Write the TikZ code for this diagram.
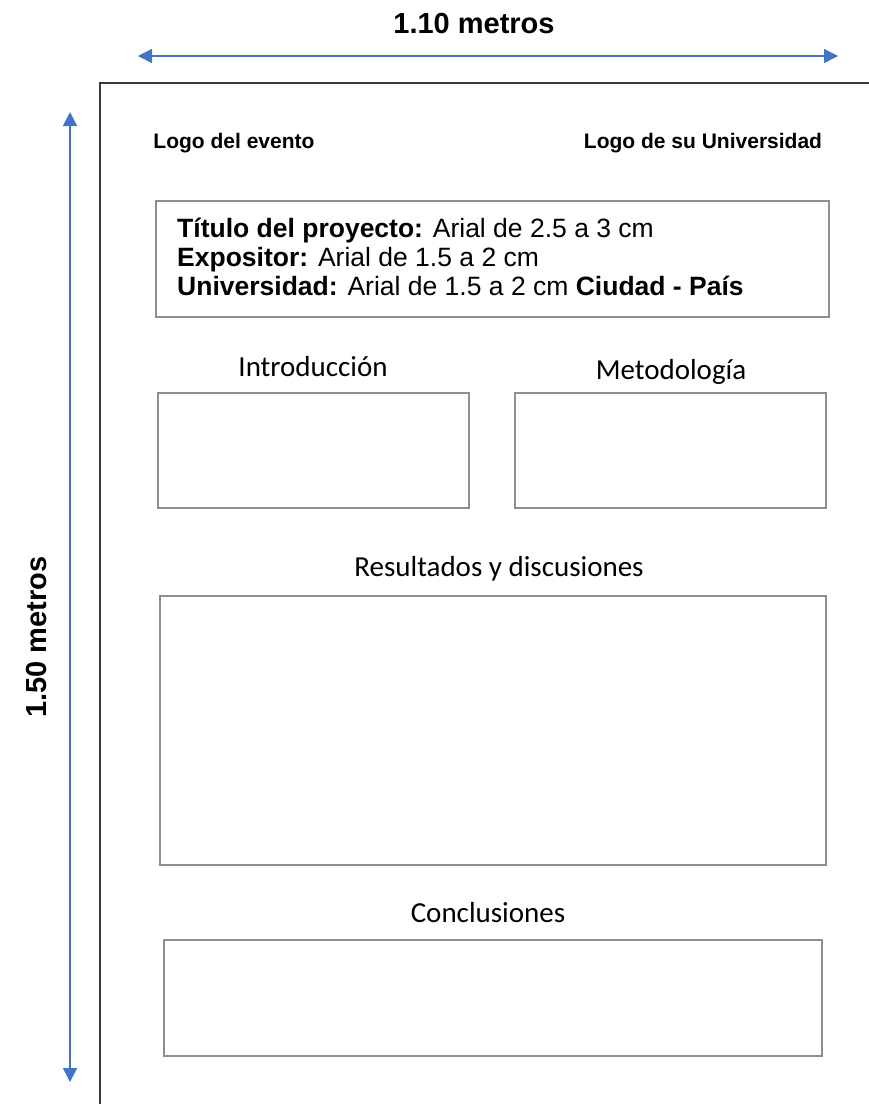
\documentclass[tikz,border=0pt]{standalone}
\usepackage{fontspec}
\setmainfont{Liberation Sans}
\newfontfamily\calibri{Carlito}
\usepackage{xcolor}
\usetikzlibrary{arrows.meta,positioning}

\definecolor{azul}{HTML}{4472C4}
\definecolor{borde}{HTML}{3A3A3A}
\definecolor{caja}{HTML}{8E8E8E}

\tikzset{
  medida/.style={azul,line width=1.5pt,{Triangle[length=14pt,width=14pt]}-{Triangle[length=14pt,width=14pt]}},
  panel/.style={draw=caja,line width=1.3pt,inner sep=0pt},
  seccion/.style={font=\calibri\fontsize{29}{34}\selectfont,anchor=base,inner sep=0pt},
  cota/.style={font=\bfseries\fontsize{29}{34}\selectfont,anchor=base,inner sep=0pt},
  logo/.style={font=\bfseries\fontsize{21}{24}\selectfont,anchor=base,inner sep=0pt}
}

\begin{document}
\begin{tikzpicture}[x=1pt,y=-1pt,>=Latex]
  \useasboundingbox (0,0) rectangle (869,1104);
  % medidas del poster
  \node[cota] (ancho) at (474,33) {1.10 metros};
  \coordinate (ancho-izq) at (138,56);
  \coordinate (ancho-der) at (838,56);
  \draw[medida] (ancho-izq) -- (ancho-der);
  \node[cota,rotate=90] (alto) at (46,637) {1.50 metros};
  \coordinate (alto-sup) at (70,112);
  \coordinate (alto-inf) at (70,1082);
  \draw[medida] (alto-sup) -- (alto-inf);
  % borde del poster
  \coordinate (borde-der) at (869,83);
  \coordinate (esquina) at (100,83);
  \coordinate (borde-inf) at (100,1104);
  \draw[borde,line width=1.3pt] (borde-der) -- (esquina) -- (borde-inf);
  % logos
  \node[logo] (logo-evento) at (234,148) {Logo del evento};
  \node[logo] (logo-univ) at (703,148) {Logo de su Universidad};
  % encabezado
  \node[panel,minimum width=673,minimum height=116] (titulo) at (492.5,259) {};
  \node[anchor=base west,align=left,inner sep=0pt,
        font=\fontsize{26.5}{29}\selectfont] (datos) at (177,295)
    {\textbf{Título del proyecto:} Arial de 2.5 a 3 cm\\
     \textbf{Expositor:} Arial de 1.5 a 2 cm\\
     \textbf{Universidad:} Arial de 1.5 a 2 cm \textbf{Ciudad - País}};
  % secciones
  \node[seccion] (intro-t) at (313,376) {Introducción};
  \node[panel,minimum width=311,minimum height=115] (intro) at (313.5,450.5) {};
  \node[seccion] (metodo-t) at (671,379) {Metodología};
  \node[panel,minimum width=311,minimum height=115] (metodo) at (670.5,450.5) {};
  \node[seccion] (result-t) at (499,576) {Resultados y discusiones};
  \node[panel,minimum width=666,minimum height=269] (result) at (493,730.5) {};
  \node[seccion] (concl-t) at (488,922) {Conclusiones};
  \node[panel,minimum width=658,minimum height=116] (concl) at (493,998) {};
\end{tikzpicture}
\end{document}
